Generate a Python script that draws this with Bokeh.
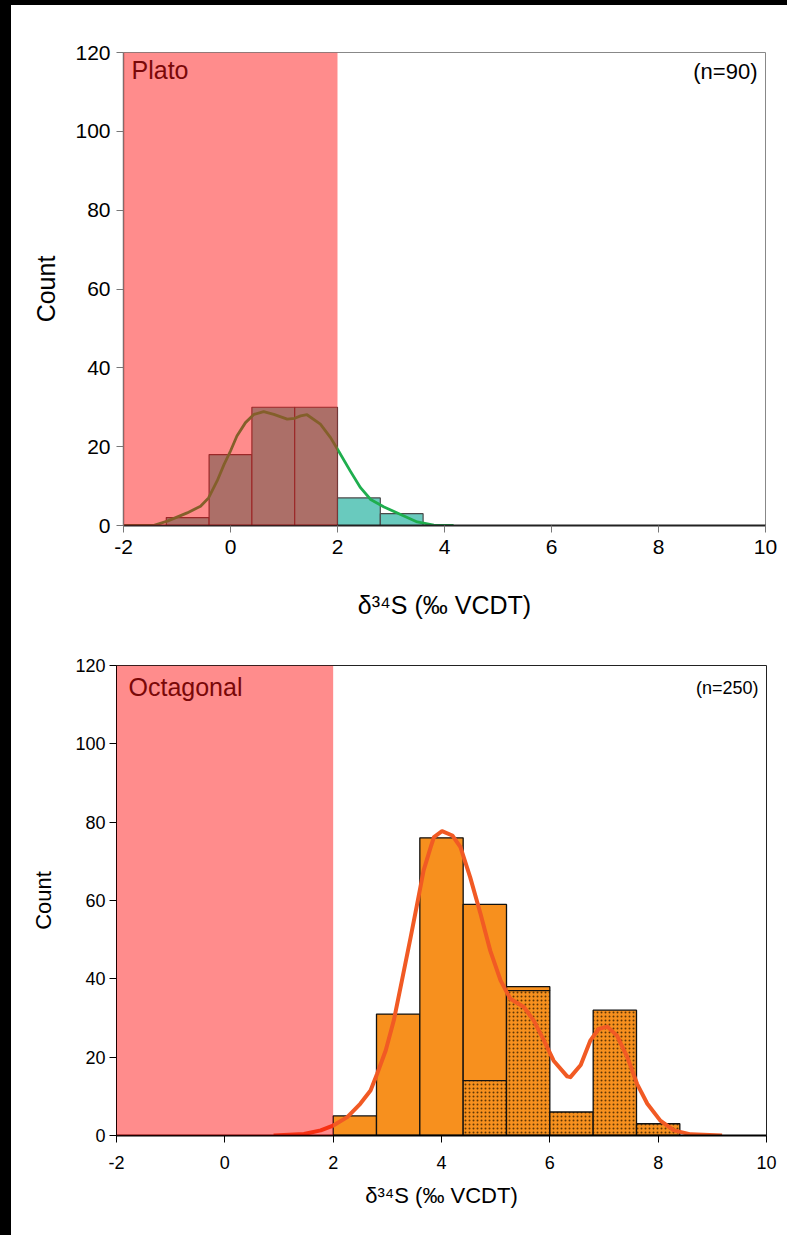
from bokeh.plotting import figure
from bokeh.models import Range1d, BoxAnnotation, Label, ColumnDataSource, FixedTicker, Spacer
from bokeh.layouts import column, row
from bokeh.embed import file_html
from bokeh.resources import INLINE

# ---------------- data ----------------
x_ticks = [-2, 0, 2, 4, 6, 8, 10]
x_tick_labels = ["-2", "0", "2", "4", "6", "8", "10"]
y_ticks = [0, 20, 40, 60, 80, 100, 120]
y_tick_labels = ["0", "20", "40", "60", "80", "100", "120"]
bin_width = 0.8
band_range = [-2, 2]

plato_bin_left = [-1.2, -0.4, 0.4, 1.2, 2.0, 2.8]
plato_counts = [2, 18, 30, 30, 7, 3]
plato_kde_x = [-2.0, -1.7, -1.43, -1.18, -0.81, -0.56, -0.41, -0.25, -0.12, 0.0, 0.12,
               0.28, 0.44, 0.62, 0.81, 1.06, 1.20, 1.31, 1.43, 1.68, 1.87, 2.02,
               2.24, 2.43, 2.62, 2.87, 3.18, 3.49, 3.80, 4.17]
plato_kde_y = [0.0, 0.0, 0.05, 1.1, 3.2, 4.9, 7.0, 11.3, 15.5, 18.9, 22.7,
               26.1, 28.2, 28.9, 28.2, 27.0, 27.2, 27.8, 28.1, 25.7, 22.3, 18.9,
               13.8, 9.6, 6.6, 4.7, 2.8, 0.9, 0.1, 0.0]

oct_bin_left = [2.0, 2.8, 3.6, 4.4, 5.2, 6.0, 6.8, 7.6]
oct_plain = [5, 31, 76, 45, 1, 0, 0, 0]
oct_dotted = [0, 0, 0, 14, 37, 6, 32, 3]
oct_kde_x = [0.90, 1.46, 1.77, 2.01, 2.26, 2.50, 2.69, 2.81, 2.97, 3.12, 3.27, 3.43,
             3.55, 3.67, 3.80, 3.86, 4.01, 4.20, 4.35, 4.53, 4.72, 4.90, 5.09, 5.27,
             5.52, 5.70, 5.89, 6.07, 6.32, 6.38, 6.57, 6.75, 6.90, 7.06, 7.24, 7.43,
             7.61, 7.80, 8.04, 8.29, 8.60, 9.18]
oct_kde_y = [0.0, 0.4, 1.3, 2.6, 4.7, 8.1, 11.5, 15.7, 21.7, 29.4, 39.6, 50.6,
             59.1, 67.7, 73.6, 76.2, 77.7, 76.6, 73.6, 65.9, 56.6, 47.2, 39.6, 34.9,
             32.8, 29.4, 24.3, 19.1, 15.1, 14.9, 18.0, 24.3, 27.2, 27.8, 25.5, 20.0,
             13.2, 8.1, 3.8, 1.3, 0.3, 0.0]

FONT = "Liberation Sans"


def base_fig(frame_w, frame_h, left, right, top, bottom, tick_size, title_size,
             axis_col, xaxis_col, xaxis_w, yaxis_w, outline_col):
    p = figure(width=left + frame_w + right, height=top + frame_h + bottom,
               min_border_left=left, min_border_right=right,
               min_border_top=top, min_border_bottom=bottom,
               x_range=Range1d(-2, 10), y_range=Range1d(0, 120),
               toolbar_location=None, output_backend="svg",
               background_fill_color="white", border_fill_color="white")
    p.grid.visible = False
    p.outline_line_color = outline_col
    p.outline_line_width = 1
    for ax in (p.xaxis[0], p.yaxis[0]):
        ax.major_label_text_font = FONT
        ax.major_label_text_font_size = tick_size
        ax.major_label_text_color = "black"
        ax.axis_label_text_font = FONT
        ax.axis_label_text_font_size = title_size
        ax.axis_label_text_font_style = "normal"
        ax.axis_label_text_color = "black"
        ax.minor_tick_line_color = None
        ax.major_tick_in = 0
        ax.major_tick_out = 7
        ax.major_tick_line_color = axis_col
    p.xaxis.ticker = FixedTicker(ticks=x_ticks)
    p.yaxis.ticker = FixedTicker(ticks=y_ticks)
    p.xaxis.major_label_overrides = dict(zip(x_ticks, x_tick_labels))
    p.yaxis.major_label_overrides = dict(zip(y_ticks, y_tick_labels))
    p.xaxis.axis_line_color = xaxis_col
    p.xaxis.axis_line_width = xaxis_w
    p.yaxis.axis_line_color = axis_col
    p.yaxis.axis_line_width = yaxis_w
    p.xaxis.axis_label = "δ³⁴S (‰ VCDT)"
    p.yaxis.axis_label = "Count"
    return p


# ---------------- top panel: Plato ----------------
p1 = base_fig(642, 473, 112, 22, 47, 105, "21px", "25px",
              "#777777", "#222222", 2, 1.5, "#888888")
p1.xaxis.major_label_standoff = 7
p1.xaxis.axis_label_standoff = 34
p1.yaxis.major_label_standoff = 6
p1.yaxis.axis_label_standoff = 12

src1 = ColumnDataSource(dict(
    left=plato_bin_left,
    right=[l + bin_width for l in plato_bin_left],
    top=plato_counts,
    bottom=[0] * len(plato_counts)))
p1.quad(left="left", right="right", top="top", bottom="bottom", source=src1,
        fill_color="#69CABE", line_color="#4a4a4a", line_width=1.2)
p1.line(plato_kde_x, plato_kde_y, line_color="#1FAE4E", line_width=2.8,
        line_join="round")

p1.add_layout(BoxAnnotation(left=band_range[0], right=band_range[1],
                            fill_color="#FF0000", fill_alpha=0.45, line_alpha=0))
p1.add_layout(Label(x=-2, y=120, x_offset=8, y_offset=-3, text="Plato",
                    text_font=FONT, text_font_size="25px", text_color="#7a0808",
                    text_baseline="top", text_align="left"))
p1.add_layout(Label(x=10, y=120, x_offset=-8, y_offset=-6, text="(n=90)",
                    text_font=FONT, text_font_size="22px", text_color="black",
                    text_baseline="top", text_align="right"))

# ---------------- bottom panel: Octagonal ----------------
p2 = base_fig(650, 470, 105, 21, 35, 100, "18px", "22px",
              "#000000", "#000000", 2, 1, "#222222")
p2.xaxis.major_label_standoff = 13
p2.xaxis.axis_label_standoff = 11
p2.yaxis.major_label_standoff = 4
p2.yaxis.axis_label_standoff = 16

bottoms_plain = oct_dotted
tops_plain = [d + q for d, q in zip(oct_dotted, oct_plain)]
keep_p = [i for i, q in enumerate(oct_plain) if q > 0]
keep_d = [i for i, d in enumerate(oct_dotted) if d > 0]

src_d = ColumnDataSource(dict(
    left=[oct_bin_left[i] for i in keep_d],
    right=[oct_bin_left[i] + bin_width for i in keep_d],
    top=[oct_dotted[i] for i in keep_d],
    bottom=[0] * len(keep_d)))
src_p = ColumnDataSource(dict(
    left=[oct_bin_left[i] for i in keep_p],
    right=[oct_bin_left[i] + bin_width for i in keep_p],
    top=[tops_plain[i] for i in keep_p],
    bottom=[bottoms_plain[i] for i in keep_p]))

p2.quad(left="left", right="right", top="top", bottom="bottom", source=src_p,
        fill_color="#F7901E", line_color="#111111", line_width=1.3)
p2.quad(left="left", right="right", top="top", bottom="bottom", source=src_d,
        fill_color="#F7901E", line_color="#111111", line_width=1.3,
        hatch_pattern="dot", hatch_color="#3a2000", hatch_scale=4, hatch_weight=1,
        hatch_alpha=0.8)
p2.line(oct_kde_x, oct_kde_y, line_color="#F15A24", line_width=4, line_join="round")

p2.add_layout(BoxAnnotation(left=band_range[0], right=band_range[1],
                            fill_color="#FF0000", fill_alpha=0.45, line_alpha=0))
p2.add_layout(Label(x=-2, y=120, x_offset=12, y_offset=-7, text="Octagonal",
                    text_font=FONT, text_font_size="25px", text_color="#7a0808",
                    text_baseline="top", text_align="left"))
p2.add_layout(Label(x=10, y=120, x_offset=-8, y_offset=-12, text="(n=250)",
                    text_font=FONT, text_font_size="18px", text_color="black",
                    text_baseline="top", text_align="right"))

BLACK = {"background-color": "black"}
WHITE = {"background-color": "white"}
layout = column(
    Spacer(width=787, height=5, styles=BLACK),
    row(Spacer(width=11, height=625, styles=BLACK), p1, spacing=0, styles=WHITE),
    row(Spacer(width=11, height=605, styles=BLACK), p2, spacing=0, styles=WHITE),
    spacing=0, styles=WHITE)
open("out.html", "w").write(file_html(layout, INLINE))
